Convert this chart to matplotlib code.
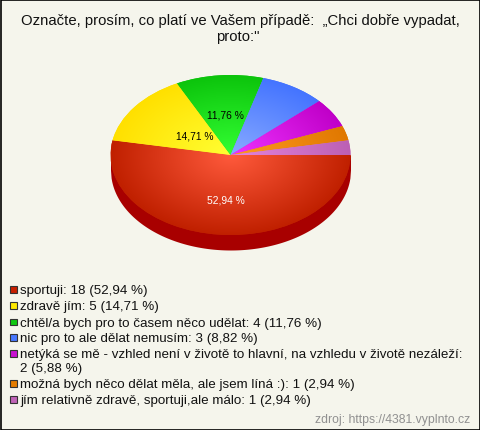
import numpy as np
import matplotlib
matplotlib.use("Agg")
import matplotlib.pyplot as plt
from matplotlib.colors import LinearSegmentedColormap
from matplotlib.patches import Rectangle

title = "Označte, prosím, co platí ve Vašem případě:  „Chci dobře vypadat,\nproto:\""
categories = ["sportuji", "zdravě jím", "chtěl/a bych pro to časem něco udělat",
              "nic pro to ale dělat nemusím",
              "netýká se mě - vzhled není v životě to hlavní, na vzhledu v životě nezáleží",
              "možná bych něco dělat měla, ale jsem líná :)",
              "jím relativně zdravě, sportuji,ale málo"]
counts = [18, 5, 4, 3, 2, 1, 1]
percents = ["52,94", "14,71", "11,76", "8,82", "5,88", "2,94", "2,94"]
source = "zdroj: https://4381.vyplnto.cz"

# center of slice -> rim of slice
inner_colours = ["#ff5a3c", "#ffff33", "#33ff33", "#88aaff", "#ee33ff", "#ff9a22", "#e484dc"]
outer_colours = ["#c02000", "#ffe000", "#0cc40c", "#4474ff", "#c000c8", "#e07800", "#bc60b4"]
legend_colours = ["#c82000", "#ffe800", "#10c810", "#4878ff", "#c810d0", "#e47c00", "#c064b8"]
bg = "#f5f5ec"

W, H = 480, 431
plt.rcParams['font.family'] = ['Liberation Sans', 'DejaVu Sans']
fig = plt.figure(figsize=(W / 100, H / 100), dpi=100, facecolor=bg)


def fx(x):
    return x / W


def fy(y):
    return 1 - y / H


# pie box in pixels
cx, cy, rx, ry, depth = 230.5, 156, 120, 80, 15
d = depth / ry
ax = fig.add_axes([fx(cx - rx), fy(cy + ry + depth), 2 * rx / W, (2 * ry + depth) / H])
ax.axis('off')

# side of the pie
xs = np.linspace(-1, 1, 400)
ax.fill_between(xs, -np.sqrt(1 - xs**2) - d, 0, color="#a80000", lw=0)

wedges, _ = ax.pie(counts, startangle=0, counterclock=False, radius=1,
                   colors=outer_colours, wedgeprops={'lw': 0})
ax.set_aspect('auto')

gx, gy = np.meshgrid(np.linspace(-1, 1, 500), np.linspace(-1, 1, 500))
rr = np.clip(np.hypot(gx, gy), 0, 1)
for wedge, c0, c1 in zip(wedges, inner_colours, outer_colours):
    cmap = LinearSegmentedColormap.from_list("s", [c0, c1])
    im = ax.imshow(rr, extent=(-1, 1, -1, 1), origin='lower', cmap=cmap, vmin=0, vmax=1,
                   aspect='auto', interpolation='bilinear', zorder=3)
    im.set_clip_path(wedge)
ax.set_xlim(-1, 1)
ax.set_ylim(-1 - d, 1)

# title
fig.text(fx(240), fy(25), title.split("\n")[0], ha='center', va='baseline', fontsize=10.7, color="#111111")
fig.text(fx(238), fy(41), title.split("\n")[1], ha='center', va='baseline', fontsize=10.7, color="#111111")

# slice labels
fig.text(fx(225.5), fy(204), percents[0] + " %", ha='center', va='baseline', fontsize=7.4, color="white")
fig.text(fx(195), fy(140), percents[1] + " %", ha='center', va='baseline', fontsize=7.4, color="black")
fig.text(fx(225.5), fy(119), percents[2] + " %", ha='center', va='baseline', fontsize=7.4, color="black")

# legend, y is the text baseline
row_y = [294, 310, 326.5, 342, 358, 388, 404]
for i, y in enumerate(row_y):
    fig.add_artist(Rectangle((fx(10), fy(y - 0.5)), 6.5 / W, 6.5 / H, transform=fig.transFigure,
                             facecolor=legend_colours[i], edgecolor="#333333", lw=0.8))
    text = f"{categories[i]}: {counts[i]} ({percents[i]} %)"
    if len(text) > 70:
        head, tail = text.replace(": ", ":\n", 1).split("\n")
        fig.text(fx(20), fy(y), head, ha='left', va='baseline', fontsize=9.6, color="#111111")
        fig.text(fx(20), fy(y + 14.5), tail, ha='left', va='baseline', fontsize=9.6, color="#111111")
    else:
        fig.text(fx(20), fy(y), text, ha='left', va='baseline', fontsize=9.6, color="#111111")

fig.text(fx(470), fy(423), source, ha='right', va='baseline', fontsize=8.8, color="#909090")

# frame
fig.add_artist(Rectangle((0.5 / W, 0.5 / H), (W - 1) / W, (H - 1) / H, transform=fig.transFigure,
                         facecolor='none', edgecolor="black", lw=1.2))

fig.savefig("out.png", dpi=100, facecolor=bg)
